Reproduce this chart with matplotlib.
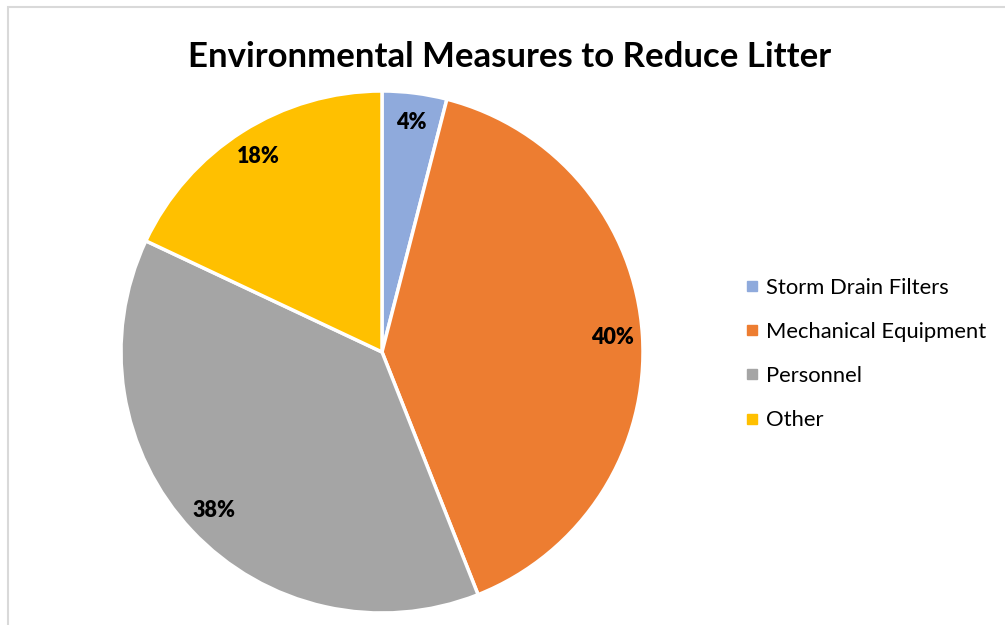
import matplotlib
matplotlib.use("Agg")
import matplotlib.pyplot as plt
from matplotlib.patches import Rectangle
from matplotlib.lines import Line2D

plt.rcParams["font.family"] = ["Lato", "DejaVu Sans"]

# data
categories = ["Storm Drain Filters", "Mechanical Equipment", "Personnel", "Other"]
shares = [4, 40, 38, 18]
colors = ["#8FAADC", "#ED7D31", "#A5A5A5", "#FFC000"]
title = "Environmental Measures to Reduce Litter"

W, H = 1005, 625
fig = plt.figure(figsize=(W / 100, H / 100), dpi=100)

# light chart-area border (runs off the right/bottom edge)
fig.patches.append(Rectangle((8 / W, -0.1), 1.1, 1 - 7 / H + 0.1, transform=fig.transFigure,
                             fill=False, edgecolor="#D9D9D9", lw=1.5))

cx, cy, r = 382, 352, 261
ax = fig.add_axes([(cx - r) / W, (H - cy - r) / H, 2 * r / W, 2 * r / H])
wedges, _, autotexts = ax.pie(
    shares, colors=colors, startangle=90, counterclock=False,
    autopct="%d%%", pctdistance=0.885,
    wedgeprops=dict(edgecolor="white", linewidth=2.5),
    textprops=dict(fontsize=15.5, fontweight="heavy", color="black"),
)
ax.set_xlim(-1, 1)
ax.set_ylim(-1, 1)
ax.set_aspect("equal")

fig.text(510 / W, 1 - 57 / H, title, ha="center", va="center",
         fontsize=25, fontweight="bold")

handles = [Line2D([], [], marker="s", ls="", markersize=7, color=c) for c in colors]
fig.legend(handles, categories, loc="center left",
           bbox_to_anchor=(726 / W, 1 - 354 / H), frameon=False,
           fontsize=15.8, labelspacing=1.1, handlelength=0.6, handletextpad=0.3)

fig.savefig("out.png", dpi=100)
